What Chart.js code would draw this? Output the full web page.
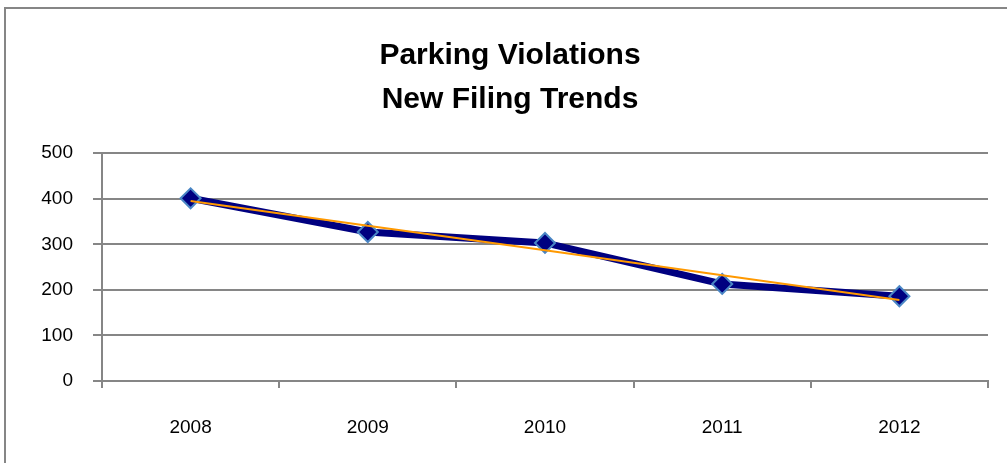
<!DOCTYPE html>
<html>
<head>
<meta charset="utf-8">
<script src="https://cdn.jsdelivr.net/npm/chart.js@4/dist/chart.umd.min.js"></script>
<style>
    html, body { margin: 0; padding: 0; background: #fff; overflow: hidden; }
    #wrap { position: relative; width: 1007px; height: 463px; }
</style>
</head>
<body>
<div id="wrap"><canvas id="chart"></canvas></div>
<script>
// values
const years = ["2008", "2009", "2010", "2011", "2012"];
const filings = [401, 327, 303, 213, 186];
// linear trend line as it appears in the picture
const trend = [395, 341, 287, 232, 178];
const titleLines = ["Parking Violations", "New Filing Trends"];

const gridGray = '#868686';
const tickFont = "'Liberation Sans', Arial, sans-serif";

// outer frame of the chart (cut off on the right and bottom in the picture)
const frame_plugin = {
    id: 'frame',
    afterLayout: (chart) => {
        // the title is centred on the whole frame, not only the plot
        chart.titleBlock.left += 32;
    },
    beforeDraw: (chart) => {
        const ctx = chart.ctx;
        ctx.save();
        ctx.fillStyle = 'white';
        ctx.fillRect(0, 0, chart.width, chart.height);
        ctx.strokeStyle = gridGray;
        ctx.lineWidth = 2;
        ctx.strokeRect(5, 8, chart.width + 20, chart.height + 20);
        ctx.restore();
    }
};

let myChart = new Chart(document.getElementById('chart'), {
    type: 'line',
    data: {
        labels: years,
        datasets: [
            {
                label: 'New filings',
                data: filings,
                borderColor: '#000080',
                backgroundColor: '#000080',
                borderWidth: 7,
                pointStyle: 'rectRot',
                pointRadius: 10,
                pointHoverRadius: 10,
                pointBorderColor: '#4A86C5',
                pointBorderWidth: 2,
                pointBackgroundColor: '#000080',
                tension: 0,
                order: 2
            },
            {
                label: 'Trend',
                data: trend,
                borderColor: '#FF9900',
                borderWidth: 2,
                pointRadius: 0,
                tension: 0,
                order: 1
            }
        ]
    },
    options: {
        responsive: true,
        maintainAspectRatio: false,
        animation: false,
        layout: { padding: { left: 0, right: 19, top: 0, bottom: 0 } },
        plugins: {
            legend: { display: false },
            tooltip: { enabled: false },
            title: {
                display: true,
                text: titleLines,
                color: '#000',
                font: { family: tickFont, size: 30, weight: 'bold', lineHeight: 1.47 },
                padding: { top: 34, bottom: 31 }
            }
        },
        scales: {
            x: {
                offset: true,
                grid: {
                    offset: true,
                    drawOnChartArea: false,
                    drawTicks: true,
                    tickLength: 7,
                    color: gridGray,
                    lineWidth: 2
                },
                border: { color: gridGray, width: 2 },
                ticks: {
                    color: '#000',
                    padding: 28,
                    font: { family: tickFont, size: 19 }
                },
                afterFit: (scale) => { scale.height = 82; }
            },
            y: {
                min: 0,
                max: 500,
                ticks: {
                    stepSize: 100,
                    color: '#000',
                    padding: 20,
                    font: { family: tickFont, size: 19 }
                },
                grid: {
                    color: gridGray,
                    lineWidth: 2,
                    tickLength: 9
                },
                border: { color: gridGray, width: 2 },
                afterFit: (scale) => { scale.width = 102; }
            }
        }
    },
    plugins: [frame_plugin]
});
</script>
</body>
</html>
